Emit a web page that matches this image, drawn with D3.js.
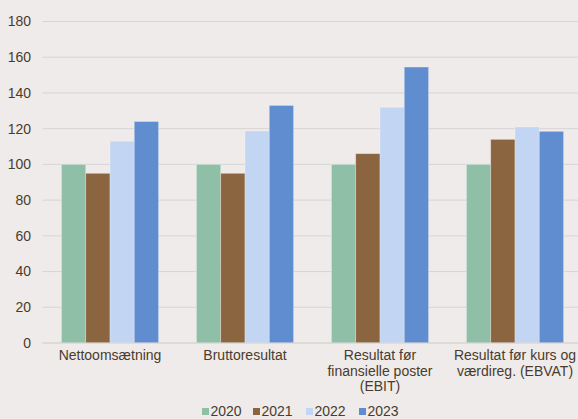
<!DOCTYPE html>
<html>
<head>
<meta charset="utf-8">
<script src="https://cdn.jsdelivr.net/npm/d3@7"></script>
<style>
  html, body { margin: 0; padding: 0; background: #EEEBEA; }
  svg { display: block; }
  text { font-family: "Liberation Sans", Arial, sans-serif; fill: #4A3B2C; }
</style>
</head>
<body>
<svg id="chart" width="578" height="419"></svg>
<script>
const categories = [
  ["Nettoomsætning"],
  ["Bruttoresultat"],
  ["Resultat før", "finansielle poster", "(EBIT)"],
  ["Resultat før kurs og", "værdireg. (EBVAT)"]
];
const years = ["2020", "2021", "2022", "2023"];
const values2020 = [100, 100, 100, 100];
const values2021 = [95, 95, 106, 114];
const values2022 = [113, 118.7, 132, 121];
const values2023 = [124, 133, 154.5, 118.5];
const yTicks = [0, 20, 40, 60, 80, 100, 120, 140, 160, 180];
const colors = ["#8FBFA7", "#8B6540", "#C2D5F2", "#5F8DD0"];

const series = [values2020, values2021, values2022, values2023];

const svg = d3.select("#chart");
const margin = { top: 21.5, left: 42.5, bottom: 343 };

const x = d3.scaleBand()
  .domain(d3.range(categories.length))
  .range([margin.left, margin.left + 540])
  .paddingInner(0)
  .paddingOuter(0);

const x1 = d3.scaleBand()
  .domain(years)
  .range([0, x.bandwidth()])
  .paddingOuter(0.78)
  .paddingInner(0);

const y = d3.scaleLinear().domain([0, 180]).range([margin.bottom, margin.top]);

// grid lines
svg.append("g").selectAll("line")
  .data(yTicks)
  .join("line")
  .attr("x1", margin.left).attr("x2", 578)
  .attr("y1", d => y(d)).attr("y2", d => y(d))
  .attr("stroke", "#D8D5D3").attr("stroke-width", 1);

// y tick labels
svg.append("g").selectAll("text")
  .data(yTicks)
  .join("text")
  .attr("x", 31).attr("y", d => y(d))
  .attr("dy", "0.35em")
  .attr("text-anchor", "end")
  .attr("font-size", 14)
  .text(d => d);

// bars
const groups = svg.append("g").selectAll("g")
  .data(categories.map((c, i) => i))
  .join("g")
  .attr("transform", i => `translate(${x(i)},0)`);

groups.selectAll("rect")
  .data(i => years.map((yr, k) => ({ yr, k, v: series[k][i] })))
  .join("rect")
  .attr("x", d => x1(d.yr))
  .attr("width", x1.bandwidth())
  .attr("y", d => y(d.v))
  .attr("height", d => y(0) - y(d.v))
  .attr("fill", d => colors[d.k])
  .attr("stroke", "rgba(255,255,255,0.35)")
  .attr("stroke-width", 0.8);

// baseline
svg.append("line")
  .attr("x1", margin.left).attr("x2", 578)
  .attr("y1", y(0)).attr("y2", y(0))
  .attr("stroke", "#D8D5D3").attr("stroke-width", 1);

// category labels
groups.append("text")
  .attr("text-anchor", "middle")
  .attr("font-size", 14)
  .selectAll("tspan")
  .data(i => categories[i])
  .join("tspan")
  .attr("x", x.bandwidth() / 2)
  .attr("y", (d, j) => 360 + j * 15.5)
  .text(d => d);

// legend
const legendX = [202, 253, 306, 359];
const legend = svg.append("g").selectAll("g")
  .data(years)
  .join("g")
  .attr("transform", (d, i) => `translate(${legendX[i]},411.5)`);
legend.append("rect")
  .attr("x", 0).attr("y", -3.5).attr("width", 7).attr("height", 7)
  .attr("fill", (d, i) => colors[i]);
legend.append("text")
  .attr("x", 8.5).attr("y", 0).attr("dy", "0.35em")
  .attr("font-size", 14)
  .text(d => d);
</script>
</body>
</html>
